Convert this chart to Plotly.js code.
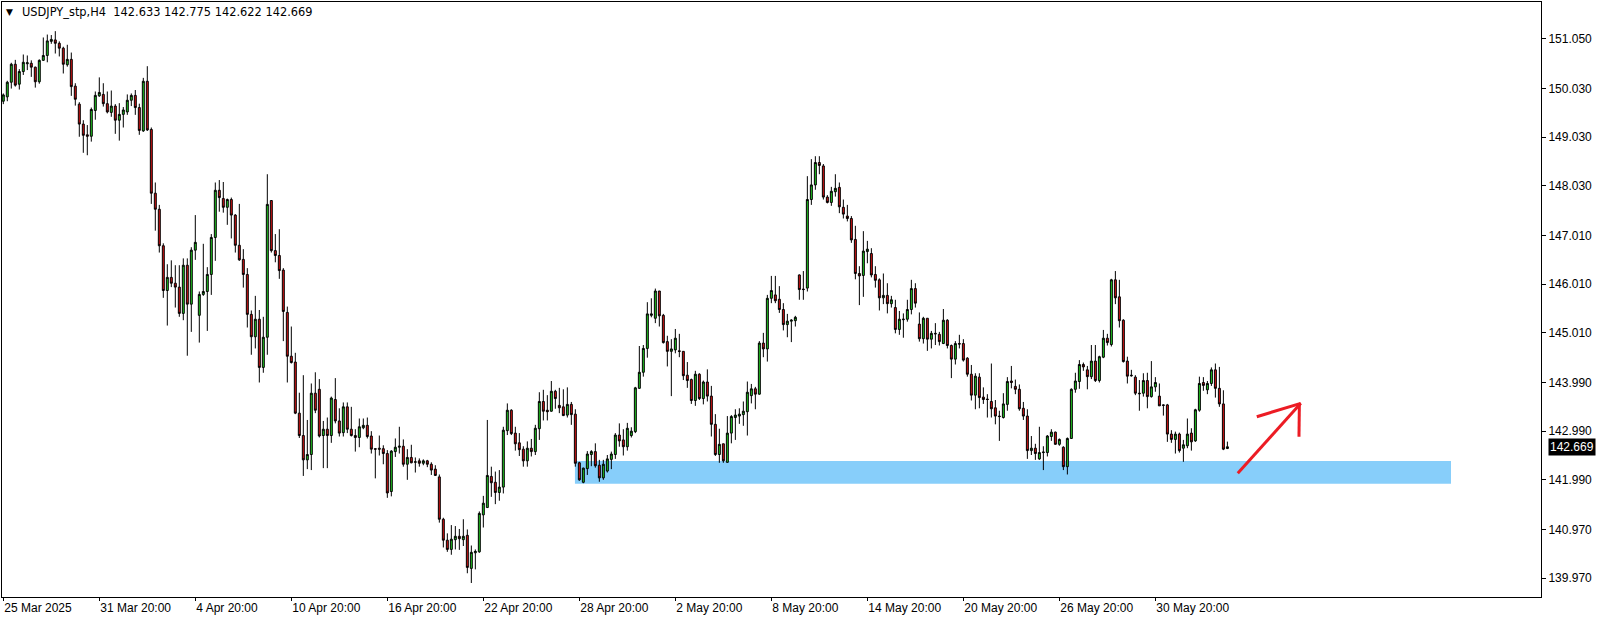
<!DOCTYPE html>
<html><head><meta charset="utf-8">
<script src="https://cdn.plot.ly/plotly-3.0.1.min.js"></script>
<style>html,body{margin:0;padding:0;background:#fff;}#chart{width:1604px;height:621px;}</style>
</head><body><div id="chart"></div>
<script>
// USDJPY_stp H4 candles, bar index 0..306 (25 Mar 2025 .. 3 Jun 2025)
const opens = [
149.77,149.86,150.16,150.53,150.12,150.38,150.54,150.55,150.47,150.17,
150.61,150.71,151.00,151.03,150.96,150.86,150.52,150.63,150.08,149.71,
149.30,149.08,149.05,149.58,149.88,149.91,149.72,149.54,149.67,149.38,
149.50,149.55,149.79,149.89,149.64,149.16,150.18,149.19,147.88,147.55,
146.80,145.88,146.15,146.03,145.95,145.41,146.40,145.60,146.71,145.37,
145.80,145.86,146.21,146.97,147.94,147.77,147.59,147.75,147.43,146.81,
146.52,146.21,145.39,144.93,145.29,144.30,144.92,147.73,146.70,146.60,
146.30,145.43,144.53,144.41,143.36,142.90,142.40,142.51,143.77,143.85,
142.90,143.03,142.90,143.64,143.20,142.96,143.49,143.03,142.90,142.86,
143.06,143.11,142.89,142.63,142.64,142.63,142.53,141.75,142.57,142.66,
142.68,142.31,142.45,142.35,142.38,142.33,142.38,142.31,142.21,142.05,
141.18,140.75,140.56,140.76,140.83,140.76,140.85,140.17,140.49,140.51,
141.27,141.42,142.06,141.94,141.73,141.84,143.00,143.42,142.95,142.75,
142.62,142.38,142.64,142.57,143.04,143.60,143.42,143.40,143.81,143.52,
143.49,143.32,143.54,143.34,142.34,141.94,142.22,142.51,142.57,142.29,
142.03,142.17,142.41,142.51,142.91,142.81,142.67,142.90,142.98,143.87,
144.20,144.69,145.37,145.31,145.87,145.37,144.83,144.63,144.66,144.64,
144.63,144.14,144.05,143.62,144.16,143.66,144.00,143.71,143.13,142.51,
142.73,142.35,142.95,143.27,143.30,143.33,143.39,143.72,143.86,143.75,
144.80,144.68,145.72,145.79,145.70,145.49,145.18,145.25,145.26,146.20,
145.91,145.93,147.75,148.05,148.51,148.44,147.80,147.69,147.91,148.00,
147.59,147.41,147.36,146.93,146.23,146.19,146.68,146.64,146.21,146.10,
145.73,145.78,145.61,145.53,145.08,145.28,145.29,145.49,145.92,145.19,
144.89,145.31,144.88,145.00,144.98,144.79,145.27,144.75,144.47,144.79,
144.79,144.49,144.16,143.73,144.10,143.69,143.65,143.60,143.47,143.30,
143.27,143.54,144.02,143.91,143.85,143.46,143.30,142.59,142.64,142.42,
142.55,142.55,142.88,142.97,142.72,142.66,142.26,142.84,143.85,144.01,
144.36,144.25,144.11,144.43,144.03,144.51,144.90,144.77,146.10,145.75,
145.27,144.43,144.14,144.10,143.77,143.77,144.03,143.70,143.90,143.71,
143.53,143.53,142.93,142.82,142.93,142.64,142.69,142.95,142.79,143.42,
143.99,143.84,143.97,144.25,143.87,143.55,142.633];
const highs = [
149.93,150.19,150.56,150.62,150.43,150.73,150.71,150.61,150.48,150.63,
151.08,151.14,151.13,151.21,151.00,150.89,150.93,150.77,150.14,149.75,
149.38,149.28,149.64,149.97,150.26,150.14,149.97,149.99,149.71,149.73,
149.65,149.91,149.93,150.00,149.72,150.25,150.49,149.23,148.10,147.64,
146.85,146.42,146.50,146.40,146.40,146.54,146.54,146.77,147.43,145.86,
146.84,146.36,147.04,148.10,148.15,148.11,147.77,147.79,147.45,147.66,
146.73,146.34,145.47,145.77,145.48,145.34,148.27,147.73,147.04,147.14,
146.34,145.55,145.14,144.60,143.78,144.14,143.22,143.97,144.20,144.06,
143.20,143.27,143.70,144.08,143.46,143.58,143.58,143.49,143.03,143.25,
143.25,143.27,142.99,142.63,142.90,142.70,142.60,142.60,142.84,143.08,
142.82,142.62,142.71,142.45,142.43,142.41,142.40,142.35,142.29,142.10,
141.21,140.89,141.06,141.04,140.98,141.18,140.97,140.64,140.56,141.34,
141.66,143.22,142.26,142.16,142.19,143.08,143.56,143.44,143.08,142.95,
142.68,142.78,142.83,143.12,143.79,143.84,143.73,144.02,143.84,143.88,
143.85,143.89,143.59,143.44,142.36,142.24,142.58,142.60,142.74,142.40,
142.40,142.50,142.57,142.95,143.15,143.03,143.16,143.07,143.90,144.74,
144.76,145.64,145.72,145.92,145.87,145.40,144.95,144.88,145.09,144.99,
144.63,144.41,144.07,144.23,144.18,144.03,144.26,143.92,143.34,143.04,
142.73,143.30,143.32,143.44,143.46,143.60,144.01,143.96,143.90,144.84,
145.01,145.79,146.18,146.18,145.97,145.62,145.40,145.29,145.36,146.21,
146.28,148.23,148.58,148.64,148.64,148.48,147.84,148.01,148.27,148.10,
147.75,147.64,147.41,147.21,146.38,147.10,146.90,146.75,146.38,146.13,
146.23,146.03,145.77,145.69,145.46,145.41,145.69,146.10,146.03,145.43,
145.34,145.31,145.05,145.21,145.03,145.50,145.29,144.77,144.84,144.97,
144.88,144.51,144.35,144.18,144.18,143.89,143.75,144.38,143.63,143.41,
143.77,144.10,144.33,144.05,143.95,143.59,143.44,142.89,142.73,143.08,
142.68,142.91,143.03,142.98,142.84,142.68,142.86,143.87,144.19,144.45,
144.40,144.33,144.76,144.76,144.54,145.07,144.99,146.12,146.28,146.10,
145.29,144.52,144.25,144.14,144.04,144.18,144.19,144.43,144.10,143.97,
143.54,143.55,143.01,142.98,142.96,142.81,143.25,143.05,143.45,144.11,
144.10,144.02,144.30,144.38,144.31,143.83,142.775];
const lows = [
149.71,149.77,150.03,150.07,150.01,150.31,150.41,150.27,150.05,150.13,
150.60,150.57,150.95,150.75,150.69,150.34,150.48,149.88,149.68,149.04,
148.71,148.66,148.94,149.39,149.86,149.66,149.52,149.45,149.10,148.96,
149.23,149.49,149.67,149.49,149.08,149.14,149.16,147.66,147.11,146.66,
145.73,145.16,145.95,145.53,145.34,145.27,144.54,145.03,146.51,144.81,
145.77,145.05,145.79,146.49,147.50,147.48,147.23,146.95,146.66,146.49,
145.94,145.12,144.56,144.69,143.99,144.19,144.56,146.66,146.46,146.12,
144.84,143.99,144.38,143.34,142.85,142.07,142.21,142.19,143.36,142.86,
142.23,142.23,142.75,143.15,142.88,142.88,142.95,142.88,142.57,142.66,
143.03,142.84,142.53,142.02,142.49,142.31,141.62,141.65,142.46,142.53,
142.26,141.99,142.33,142.14,142.26,142.29,142.25,142.09,142.07,141.11,
140.60,140.51,140.45,140.56,140.55,140.63,140.07,139.87,140.15,140.49,
141.01,141.42,141.64,141.49,141.56,141.71,142.91,142.91,142.59,142.48,
142.26,142.26,142.47,142.50,142.81,143.21,143.21,143.39,143.45,143.36,
143.30,143.27,143.12,142.26,141.97,141.92,142.09,142.27,142.24,141.95,
141.99,142.14,142.21,142.42,142.67,142.49,142.59,142.86,142.95,143.86,
144.11,144.50,145.33,145.21,145.14,144.79,144.32,143.71,144.59,144.51,
144.04,143.88,143.55,143.51,143.63,143.54,143.60,142.88,142.48,142.34,
142.34,142.34,142.74,142.81,143.14,143.10,142.90,143.56,143.44,143.74,
144.51,144.42,145.62,145.62,145.42,145.06,144.92,144.82,145.14,145.69,
145.69,145.86,147.64,147.95,148.27,147.75,147.67,147.62,147.81,147.47,
147.36,147.30,146.86,146.11,145.58,145.75,146.44,146.15,145.94,145.47,
145.60,145.41,145.53,145.00,144.97,144.91,145.24,145.39,145.53,144.83,
144.79,144.64,144.69,144.76,144.75,144.78,144.69,144.08,144.36,144.69,
144.42,144.11,143.62,143.44,143.46,143.55,143.27,143.27,143.13,142.79,
143.25,143.41,143.87,143.75,143.41,143.22,142.42,142.50,142.40,142.40,
142.19,142.47,142.79,142.71,142.69,142.19,142.10,142.83,143.78,143.86,
144.23,143.85,144.06,144.00,143.99,144.49,144.75,144.73,145.60,145.12,
144.40,143.97,144.11,143.73,143.41,143.70,143.46,143.68,143.80,143.51,
143.31,142.77,142.75,142.53,142.55,142.36,142.64,142.59,142.77,143.39,
143.82,143.75,143.92,143.68,143.49,142.60,142.622];
const closes = [
149.90,150.16,150.53,150.10,150.38,150.57,150.56,150.47,150.17,150.61,
150.71,151.01,151.04,150.96,150.86,150.53,150.63,150.07,149.81,149.30,
149.07,149.05,149.60,149.89,149.95,149.72,149.55,149.67,149.38,149.50,
149.59,149.79,149.89,149.64,149.17,150.18,149.18,147.88,147.55,146.80,
145.88,146.15,146.03,145.95,145.41,146.40,145.60,146.71,146.87,145.80,
145.86,146.21,146.97,147.94,147.79,147.59,147.75,147.43,146.81,146.51,
146.21,145.39,144.93,145.29,144.30,144.92,147.65,146.70,146.60,146.29,
145.45,144.53,144.40,143.36,142.90,142.40,142.51,143.77,143.42,142.89,
143.03,142.90,143.67,143.20,142.95,143.49,143.03,142.90,142.86,143.08,
143.11,142.88,142.62,142.62,142.62,142.53,141.72,142.58,142.66,142.68,
142.31,142.45,142.34,142.36,142.33,142.38,142.31,142.19,142.08,141.18,
140.75,140.56,140.77,140.83,140.78,140.83,140.19,140.50,140.52,141.30,
141.51,142.08,141.93,141.73,141.84,143.01,143.42,142.94,142.73,142.61,
142.38,142.64,142.57,143.05,143.60,143.40,143.39,143.81,143.66,143.47,
143.31,143.54,143.33,142.33,141.99,142.23,142.52,142.57,142.28,142.03,
142.31,142.42,142.52,142.91,142.79,142.67,143.05,142.99,143.88,144.20,
144.69,145.40,145.40,145.87,145.36,144.81,144.63,144.68,144.90,144.63,
144.13,144.03,143.62,144.16,143.66,144.00,143.71,143.13,142.51,142.72,
142.38,142.95,143.29,143.32,143.34,143.40,143.79,143.86,143.75,144.80,
144.68,145.72,145.88,145.67,145.49,145.18,145.25,145.27,145.33,145.90,
145.90,147.75,148.05,148.51,148.45,147.80,147.69,147.92,147.98,147.60,
147.45,147.36,146.92,146.23,146.18,146.69,146.73,146.20,146.09,145.73,
145.78,145.61,145.69,145.08,145.29,145.29,145.49,145.92,145.62,144.89,
145.31,144.88,145.00,144.99,144.83,145.27,144.75,144.47,144.79,144.78,
144.45,144.16,143.73,144.12,143.68,143.64,143.64,143.45,143.30,143.29,
143.55,144.01,143.99,143.85,143.45,143.30,142.59,142.64,142.53,142.55,
142.56,142.89,142.97,142.72,142.82,142.26,142.84,143.85,144.02,144.36,
144.31,144.11,144.43,144.03,144.52,144.90,144.81,146.10,145.73,145.26,
144.42,144.12,144.13,143.77,143.76,144.03,143.70,143.90,143.99,143.51,
143.52,142.93,142.82,142.93,142.59,142.71,142.93,142.77,143.43,143.97,
143.93,143.97,144.25,143.87,143.55,142.62,142.669];

const xTickIdx  = [0, 24, 48, 72, 96, 120, 144, 168, 192, 216, 240, 264, 288];
const xTickText = ["25 Mar 2025","31 Mar 20:00","4 Apr 20:00","10 Apr 20:00","16 Apr 20:00",
  "22 Apr 20:00","28 Apr 20:00","2 May 20:00","8 May 20:00","14 May 20:00",
  "20 May 20:00","26 May 20:00","30 May 20:00"];
const yTickVals = [151.05,150.03,149.03,148.03,147.01,146.01,145.01,143.99,142.99,141.99,140.97,139.97];

const headerSymbol = "USDJPY_stp,H4";
const headerOHLC = [142.633, 142.775, 142.622, 142.669];
const lastPrice = 142.669;

// support zone (bar index, price) and hand-drawn arrow
const zoneX = [142.9, 361.9];
const zoneY = [141.91, 142.376];
const arrowShaftX = [308.6, 324.35], arrowShaftY = [142.124, 143.562];
const arrowHeadAX = [313.35, 324.35], arrowHeadAY = [143.287, 143.562];
const arrowHeadBX = [324.0, 323.9], arrowHeadBY = [143.562, 142.876];

const idx = opens.map((_, i) => i);

const trace = {
  type: 'candlestick', x: idx, open: opens, high: highs, low: lows, close: closes,
  increasing: {line: {color: '#000000', width: 1}, fillcolor: '#22c822'},
  decreasing: {line: {color: '#000000', width: 1}, fillcolor: '#d41414'},
  whiskerwidth: 0, hoverinfo: 'skip', showlegend: false
};

const red = '#ec1c24';
const shapes = [
  {type: 'rect', xref: 'x', yref: 'y', x0: zoneX[0], x1: zoneX[1], y0: zoneY[0], y1: zoneY[1],
   fillcolor: '#87cefa', line: {width: 0}, layer: 'below'},
  {type: 'line', xref: 'x', yref: 'y', x0: arrowShaftX[0], x1: arrowShaftX[1], y0: arrowShaftY[0], y1: arrowShaftY[1], line: {color: red, width: 3}},
  {type: 'line', xref: 'x', yref: 'y', x0: arrowHeadAX[0], x1: arrowHeadAX[1], y0: arrowHeadAY[0], y1: arrowHeadAY[1], line: {color: red, width: 3}},
  {type: 'line', xref: 'x', yref: 'y', x0: arrowHeadBX[0], x1: arrowHeadBX[1], y0: arrowHeadBY[0], y1: arrowHeadBY[1], line: {color: red, width: 3}}
];

const NB = '\u00a0';
const annotations = [
  {xref: 'paper', yref: 'paper', x: 0.0015, y: 0.983, xanchor: 'left', yanchor: 'middle', showarrow: false,
   text: '▼', font: {family: 'DejaVu Sans', size: 9, color: '#000'}},
  {xref: 'paper', yref: 'paper', x: 0.0120, y: 0.983, xanchor: 'left', yanchor: 'middle', showarrow: false,
   text: headerSymbol + NB + NB + headerOHLC.map(v => v.toFixed(3)).join(NB),
   font: {family: 'DejaVu Sans', size: 11.4, color: '#000'}},
  {xref: 'paper', yref: 'y', x: 1, y: lastPrice, xanchor: 'left', yanchor: 'middle', xshift: 7, showarrow: false,
   text: lastPrice.toFixed(3), bgcolor: '#000000', borderpad: 1,
   font: {family: 'Liberation Sans', size: 12, color: '#ffffff'}}
];

const layout = {
  width: 1604, height: 621,
  margin: {l: 2, r: 63, t: 2, b: 24, pad: 0},
  paper_bgcolor: '#ffffff', plot_bgcolor: '#ffffff',
  showlegend: false,
  xaxis: {
    range: [-0.325, 384.4], showgrid: false, zeroline: false,
    showline: true, mirror: true, linecolor: '#000', linewidth: 1,
    tickmode: 'array', tickvals: xTickIdx, ticktext: xTickText,
    ticks: 'outside', ticklen: 3, tickcolor: '#000',
    ticklabelposition: 'outside right',
    tickfont: {family: 'Liberation Sans', size: 12, color: '#000'},
    rangeslider: {visible: false}, fixedrange: true
  },
  yaxis: {
    side: 'right', range: [139.582, 151.809], showgrid: false, zeroline: false,
    showline: true, mirror: true, linecolor: '#000', linewidth: 1,
    tickmode: 'array', tickvals: yTickVals, tickformat: '.3f',
    ticks: 'outside', ticklen: 4, tickcolor: '#000',
    tickfont: {family: 'Liberation Sans', size: 12, color: '#000'},
    fixedrange: true
  },
  shapes: shapes,
  annotations: annotations
};

Plotly.newPlot('chart', [trace], layout, {displayModeBar: false, staticPlot: true});
</script>
</body></html>
